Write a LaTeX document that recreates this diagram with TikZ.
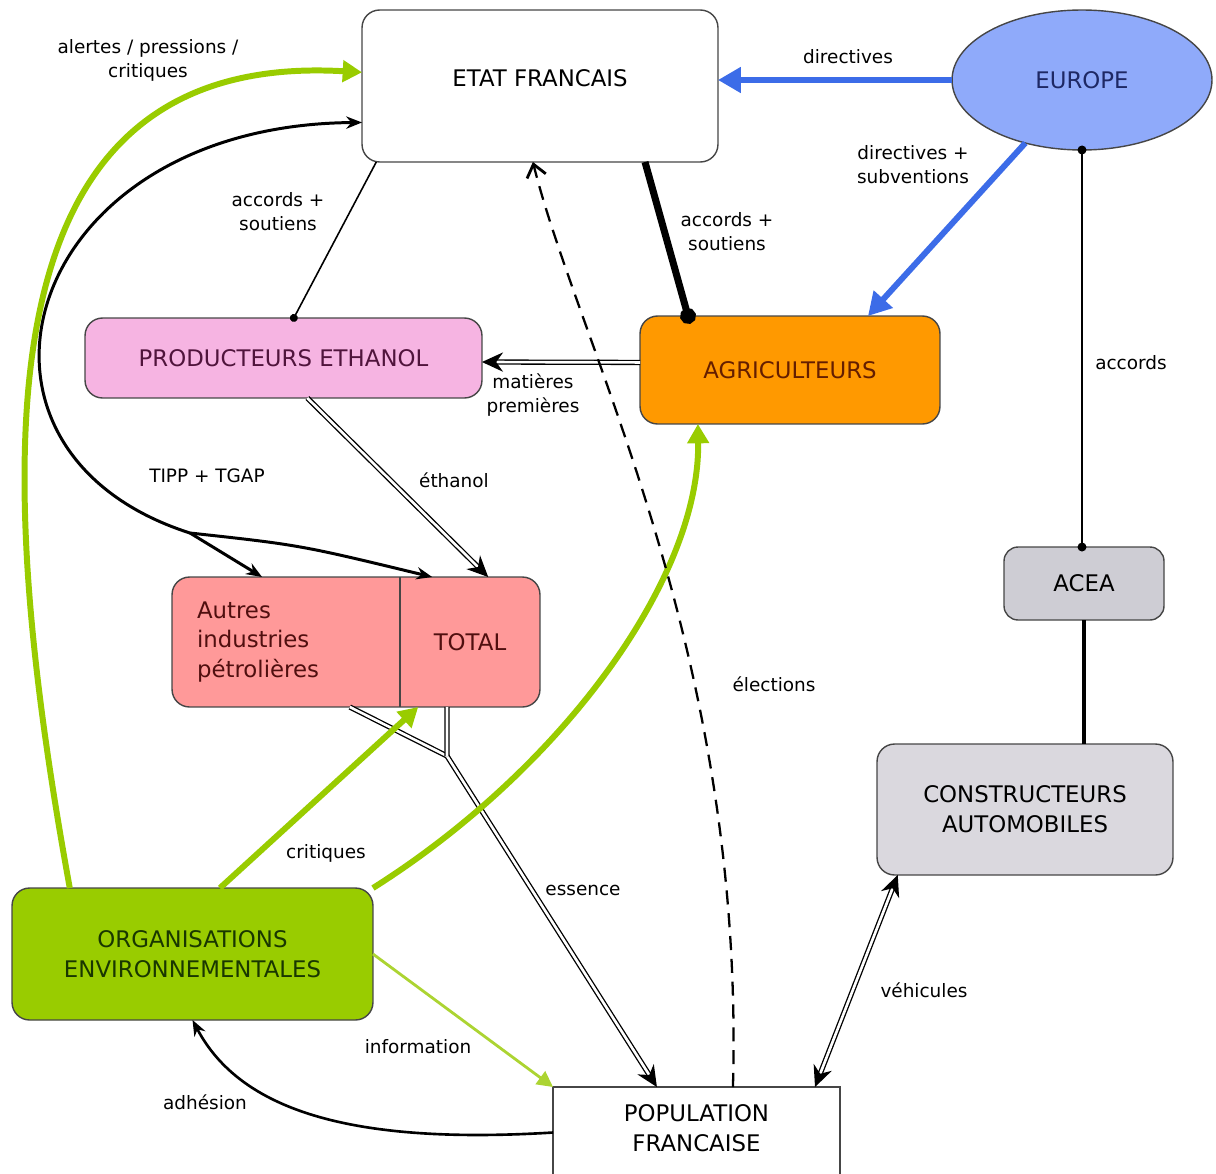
\documentclass[tikz,border=0pt]{standalone}
\usepackage{fontspec}
\setmainfont{DejaVu Sans}
\usepackage{tikz}
\usetikzlibrary{positioning,shapes.geometric,arrows.meta,calc}
\definecolor{boxline}{RGB}{70,70,70}
\definecolor{europeblue}{RGB}{143,170,250}
\definecolor{arrowblue}{RGB}{60,108,232}
\definecolor{prodpink}{RGB}{246,180,226}
\definecolor{agriorange}{RGB}{255,153,0}
\definecolor{petrolred}{RGB}{255,153,153}
\definecolor{aceagrey}{RGB}{206,205,212}
\definecolor{constrgrey}{RGB}{218,216,222}
\definecolor{orggreen}{RGB}{153,204,0}
\definecolor{infogreen}{RGB}{172,212,50}

\begin{document}
\begin{tikzpicture}[x=0.02cm,y=-0.02cm,
		  every node/.style={font=\fontsize{13}{17}\selectfont,align=center,inner sep=0pt,outer sep=0pt},
		  box/.style={draw=boxline,line width=0.8pt,rounded corners=10pt},
		  lbl/.style={font=\fontsize{10.5}{13.6}\selectfont},
		  bluearrow/.style={draw=arrowblue,line width=3.4pt,-{Triangle[length=13pt,width=14pt]}},
		  greenarrow/.style={draw=orggreen,line width=3.4pt,-{Triangle[length=11pt,width=12pt]}},
		  infoarrow/.style={draw=infogreen,line width=1.6pt,-{Triangle[length=9pt,width=9pt]}},
		  taxline/.style={line width=1.7pt},
		  dbl/.style={draw,line width=0.75pt,double=white,double distance=1.5pt},
		  dbltip/.tip={Stealth[length=12pt,width=11pt]},
		  dashedarrow/.style={line width=1.3pt,dash pattern=on 8pt off 5pt,-{Straight Barb[length=7pt,width=11pt,line width=1.6pt]}}
		]
			\useasboundingbox (0,0) rectangle (1216,1173);

			% the actors
			\node[box,fill=white,minimum width=7.12cm,minimum height=3.04cm] (etat) at (540,86) {\raisebox{9pt}{ETAT FRANCAIS}};
			\node[ellipse,draw=boxline,line width=0.8pt,fill=europeblue,text={rgb,255:red,30;green,40;blue,100},
			  minimum width=5.2cm,minimum height=2.8cm] (europe) at (1082,80) {EUROPE};
			\node[box,fill=prodpink,text={rgb,255:red,80;green,20;blue,60},
			  minimum width=7.94cm,minimum height=1.6cm] (prod) at (283.5,358) {PRODUCTEURS ETHANOL};
			\node[box,fill=agriorange,text={rgb,255:red,100;green,30;blue,0},
			  minimum width=6cm,minimum height=2.16cm] (agri) at (790,370) {AGRICULTEURS};

			% the oil industry
			\node[box,fill=petrolred,minimum width=7.36cm,minimum height=2.6cm] (petrole) at (356,642) {};
			\node[text width=3.56cm,align=left,minimum width=4.56cm,minimum height=2.6cm,
			  text={rgb,255:red,80;green,15;blue,15}] (autres) at (286,642) {Autres\\industries\\pétrolières};
			\node[minimum width=2.8cm,minimum height=2.6cm,text={rgb,255:red,80;green,15;blue,15}] (total) at (470,642) {TOTAL};
			\draw[boxline,line width=0.8pt] (autres.north east) -- (autres.south east);

			% the car makers
			\node[box,fill=aceagrey,rounded corners=8pt,minimum width=3.2cm,minimum height=1.46cm] (acea) at (1084,583.5) {ACEA};
			\node[box,fill=constrgrey,minimum width=5.92cm,minimum height=2.62cm] (constr) at (1025,809.5) {CONSTRUCTEURS\\AUTOMOBILES};

			% the others
			\node[box,fill=orggreen,text={rgb,255:red,25;green,55;blue,0},
			  minimum width=7.22cm,minimum height=2.64cm] (org) at (192.5,954) {ORGANISATIONS\\ENVIRONNEMENTALES};
			\node[draw=boxline,line width=0.8pt,fill=white,minimum width=5.74cm,minimum height=1.82cm] (pop) at (696.5,1132.5) {\raisebox{5pt}{POPULATION}\\\raisebox{5pt}{FRANCAISE}};

			% the links from europe
			\draw[bluearrow] (europe.west) -- (europe.west -| etat.east);
			\draw[bluearrow] (europe.228) -- ($(agri.north west)!0.76!(agri.north east)$);
			\draw[line width=1.4pt,{Circle[length=5pt]}-{Circle[length=5pt]},shorten <=-2.5pt,shorten >=-2.5pt]
			  (europe.south) -- (europe.south |- acea.north);
			\draw[line width=2pt] (acea.south) -- (acea.south |- constr.north);

			% the links from the state
			\draw[line width=4pt,-{Circle[length=9pt]},shorten >=-4.5pt]
			  ($(etat.south west)!0.795!(etat.south east)$) -- ($(agri.north west)!0.16!(agri.north east)$);
			\draw[line width=0.9pt,-{Circle[length=4.5pt]},shorten >=-2.2pt]
			  ($(etat.south west)!0.04!(etat.south east)$) -- ($(prod.north west)!0.526!(prod.north east)$);

			% the goods
			\draw[dbl,-dbltip]
			  ($(agri.north west)!0.43!(agri.south west)$) -- ($(prod.north east)!0.55!(prod.south east)$);
			\draw[dbl,-dbltip]
			  ($(prod.south west)!0.56!(prod.south east)$) -- ($(total.north west)!0.63!(total.north east)$);
			\coordinate (essjoin) at (447,756);
			\draw[dbl,-dbltip]
			  ($(autres.south west)!0.78!(autres.south east)$) -- (essjoin) -- ($(pop.north west)!0.362!(pop.north east)$);
			\draw[dbl] ($(total.south west)!0.336!(total.south east)$) -- (essjoin);
			\draw[dbl,dbltip-dbltip]
			  ($(pop.north west)!0.913!(pop.north east)$) -- ($(constr.south west)!0.07!(constr.south east)$);

			% the taxes
			\coordinate (tippsplit) at (190,533);
			\draw[taxline,-{Stealth[length=9pt,width=7pt]}] (tippsplit) .. controls (-70,450) and (20,125) .. ($(etat.north west)!0.74!(etat.south west)$);
			\draw[taxline,-{Stealth[length=9pt,width=7pt]}] (tippsplit) -- ($(autres.north west)!0.395!(autres.north east)$);
			\draw[taxline,-{Stealth[length=9pt,width=7pt]}] (tippsplit) .. controls (300,545) .. ($(total.north west)!0.23!(total.north east)$);

			% the environmental pressure
			\draw[greenarrow] ($(org.north west)!0.16!(org.north east)$) .. controls (-10,450) and (-20,50) .. ($(etat.north west)!0.41!(etat.south west)$);
			\draw[greenarrow] ($(org.north west)!0.576!(org.north east)$) -- ($(total.south west)!0.13!(total.south east)$);
			\draw[greenarrow] (org.north east) .. controls (560,770) and (700,580) .. ($(agri.south west)!0.193!(agri.south east)$);
			\draw[infoarrow] (org.east) -- (pop.north west);

			% the population
			\draw[line width=1.5pt,-{Stealth[length=9pt,width=7pt]}] (pop.west) .. controls (350,1145) and (240,1110) .. (org.south);
			\draw[dashedarrow] ($(pop.north west)!0.627!(pop.north east)$) .. controls (745,650) and (580,350) .. ($(etat.south west)!0.48!(etat.south east)$);

			% the labels
			\foreach \nm/\x/\y/\txt in {alertes/148/60/{alertes / pressions /\\critiques},
			  directives/848/57/directives,
			  subventions/913/165/{directives +\\subventions},
			  soutprod/278/212/{accords +\\soutiens},
			  soutagri/727/232/{accords +\\soutiens},
			  matieres/533/395/{matières\\premières},
			  ethanol/454/480/éthanol,
			  tipp/207/476/{TIPP + TGAP},
			  accords/1131/363/accords,
			  elections/774/684/élections,
			  critiques/326/853/critiques,
			  essence/583/890/essence,
			  vehicules/924/990/véhicules,
			  information/418/1047/information,
			  adhesion/205/1102/adhésion}
			  \node[lbl] (l-\nm) at (\x,\y) {\txt};

		\end{tikzpicture}
\end{document}
